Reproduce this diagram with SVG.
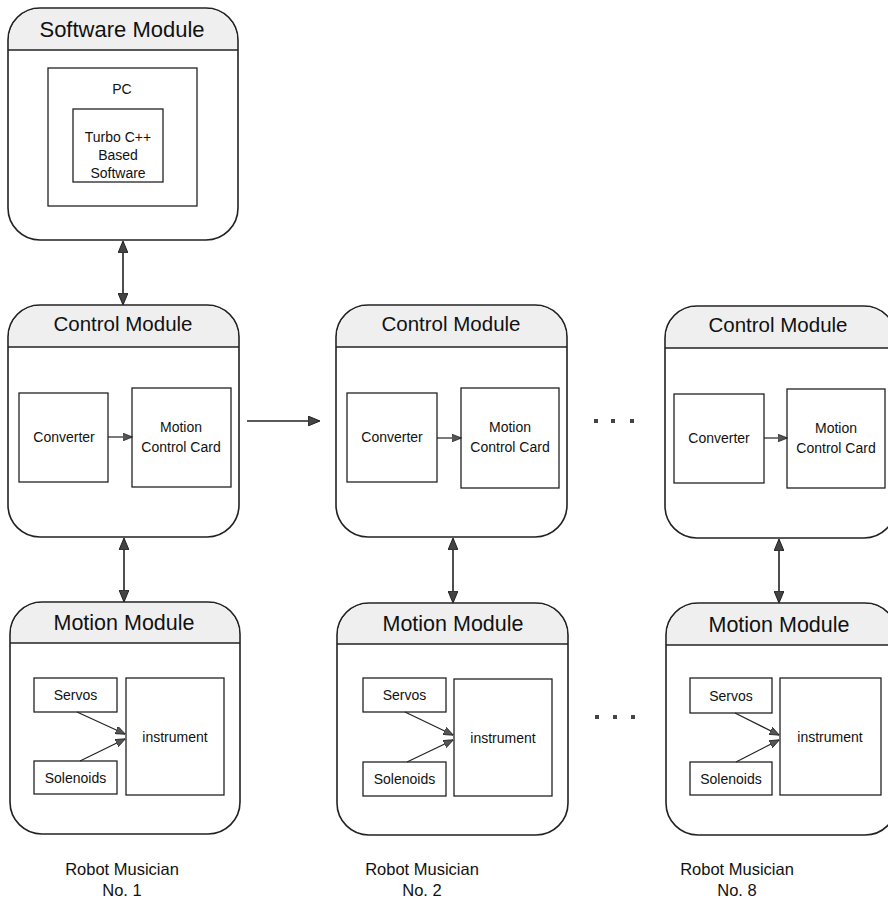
<svg xmlns="http://www.w3.org/2000/svg" width="888" height="915" viewBox="0 0 888 915">
<style>
.mod{fill:#fff;stroke:#222;stroke-width:1.6}
.hdr{fill:#efefef;stroke:none}
.div{stroke:#222;stroke-width:1.5}
.box{fill:#fff;stroke:#222;stroke-width:1.3}
.title{font-family:"Liberation Sans",Arial,sans-serif;font-size:20.5px;fill:#111;text-anchor:middle}
.t{font-family:"Liberation Sans",Arial,sans-serif;font-size:14px;fill:#111;text-anchor:middle}
.lab{font-family:"Liberation Sans",Arial,sans-serif;font-size:16.5px;fill:#111;text-anchor:middle}
.con{stroke:#222;stroke-width:1.6;fill:none}
.con2{stroke:#222;stroke-width:1.2;fill:none}
.dot{fill:#444}
</style>
<defs>
<marker id="ah" viewBox="0 0 12 10" refX="11" refY="5" markerWidth="12" markerHeight="10" markerUnits="userSpaceOnUse" orient="auto-start-reverse">
<path d="M0,0 L12,5 L0,10 Z" fill="#444" stroke="#222" stroke-width="1"/>
</marker>
<marker id="as" viewBox="0 0 10 8" refX="9.5" refY="4" markerWidth="10" markerHeight="8" markerUnits="userSpaceOnUse" orient="auto">
<path d="M0,0 L10,4 L0,8 Z" fill="#555" stroke="#222" stroke-width="0.8"/>
</marker>
</defs>

<g id="software-module">
<rect class="mod" x="8" y="8" width="230" height="232" rx="32"/>
<path class="hdr" d="M9,50 L9,40 A31,31 0 0 1 40,9 L206,9 A31,31 0 0 1 237,40 L237,50 Z"/>
<line class="div" x1="8" y1="50" x2="238" y2="50"/>
<text class="title" x="122" y="37" style="font-size:22px">Software Module</text>
<rect class="box" x="48" y="68" width="149" height="138"/>
<text class="t" x="122" y="94">PC</text>
<rect class="box" x="73" y="109" width="90" height="73"/>
<text class="t" x="118" y="142">Turbo C++</text>
<text class="t" x="118" y="160">Based</text>
<text class="t" x="118" y="178">Software</text>
</g>

<g id="control-module-1">
<rect class="mod" x="8" y="305" width="231" height="232" rx="32"/>
<path class="hdr" d="M9,347 L9,337 A31,31 0 0 1 40,306 L207,306 A31,31 0 0 1 238,337 L238,347 Z"/>
<line class="div" x1="8" y1="347" x2="239" y2="347"/>
<text class="title" x="123" y="331">Control Module</text>
<rect class="box" x="19" y="393" width="89" height="89"/>
<text class="t" x="64" y="442">Converter</text>
<rect class="box" x="132" y="388" width="99" height="99"/>
<text class="t" x="181" y="432">Motion</text>
<text class="t" x="181" y="452">Control Card</text>
</g>

<g id="control-module-2">
<rect class="mod" x="336" y="305" width="231" height="232" rx="32"/>
<path class="hdr" d="M337,347 L337,337 A31,31 0 0 1 368,306 L535,306 A31,31 0 0 1 566,337 L566,347 Z"/>
<line class="div" x1="336" y1="347" x2="567" y2="347"/>
<text class="title" x="451" y="331">Control Module</text>
<rect class="box" x="347" y="393" width="90" height="89"/>
<text class="t" x="392" y="442">Converter</text>
<rect class="box" x="461" y="388" width="98" height="100"/>
<text class="t" x="510" y="432">Motion</text>
<text class="t" x="510" y="452">Control Card</text>
</g>

<g id="control-module-8">
<rect class="mod" x="665" y="306" width="231" height="232" rx="32"/>
<path class="hdr" d="M666,348 L666,338 A31,31 0 0 1 697,307 L864,307 A31,31 0 0 1 895,338 L895,348 Z"/>
<line class="div" x1="665" y1="348" x2="896" y2="348"/>
<text class="title" x="778" y="332">Control Module</text>
<rect class="box" x="674" y="394" width="90" height="89"/>
<text class="t" x="719" y="443">Converter</text>
<rect class="box" x="787" y="389" width="98" height="99"/>
<text class="t" x="836" y="433">Motion</text>
<text class="t" x="836" y="453">Control Card</text>
</g>

<g id="motion-module-1">
<rect class="mod" x="10" y="602" width="230" height="232" rx="32"/>
<path class="hdr" d="M11,643 L11,634 A31,31 0 0 1 42,603 L208,603 A31,31 0 0 1 239,634 L239,643 Z"/>
<line class="div" x1="10" y1="643" x2="240" y2="643"/>
<text class="title" x="124" y="630" style="font-size:21.5px">Motion Module</text>
<rect class="box" x="34" y="678" width="83" height="34"/>
<text class="t" x="75.5" y="700">Servos</text>
<rect class="box" x="34" y="761" width="83" height="33"/>
<text class="t" x="75.5" y="783">Solenoids</text>
<rect class="box" x="126" y="678" width="98" height="117"/>
<text class="t" x="175" y="742">instrument</text>
</g>

<g id="motion-module-2">
<rect class="mod" x="337" y="603" width="231" height="232" rx="32"/>
<path class="hdr" d="M338,644 L338,635 A31,31 0 0 1 369,604 L536,604 A31,31 0 0 1 567,635 L567,644 Z"/>
<line class="div" x1="337" y1="644" x2="568" y2="644"/>
<text class="title" x="453" y="631" style="font-size:21.5px">Motion Module</text>
<rect class="box" x="363" y="678" width="83" height="34"/>
<text class="t" x="404.5" y="700">Servos</text>
<rect class="box" x="363" y="762" width="83" height="34"/>
<text class="t" x="404.5" y="784">Solenoids</text>
<rect class="box" x="454" y="679" width="98" height="117"/>
<text class="t" x="503" y="743">instrument</text>
</g>

<g id="motion-module-8">
<rect class="mod" x="666" y="603" width="231" height="232" rx="32"/>
<path class="hdr" d="M667,645 L667,635 A31,31 0 0 1 698,604 L865,604 A31,31 0 0 1 896,635 L896,645 Z"/>
<line class="div" x1="666" y1="645" x2="897" y2="645"/>
<text class="title" x="779" y="632" style="font-size:21.5px">Motion Module</text>
<rect class="box" x="690" y="678" width="82" height="35"/>
<text class="t" x="731" y="701">Servos</text>
<rect class="box" x="690" y="762" width="82" height="33"/>
<text class="t" x="731" y="784">Solenoids</text>
<rect class="box" x="780" y="678" width="101" height="117"/>
<text class="t" x="830" y="742">instrument</text>
</g>

<g id="connectors">
<line class="con" x1="123" y1="242" x2="123" y2="304" marker-start="url(#ah)" marker-end="url(#ah)"/>
<line class="con" x1="124" y1="539" x2="124" y2="601" marker-start="url(#ah)" marker-end="url(#ah)"/>
<line class="con" x1="453" y1="539" x2="453" y2="602" marker-start="url(#ah)" marker-end="url(#ah)"/>
<line class="con" x1="779" y1="540" x2="779" y2="602" marker-start="url(#ah)" marker-end="url(#ah)"/>
<line class="con" x1="247" y1="421" x2="319" y2="421" marker-end="url(#ah)"/>
<line class="con2" x1="108" y1="437" x2="132" y2="437" marker-end="url(#as)"/>
<line class="con2" x1="437" y1="438" x2="461" y2="438" marker-end="url(#as)"/>
<line class="con2" x1="764" y1="438" x2="787" y2="438" marker-end="url(#as)"/>
<line class="con2" x1="77" y1="712" x2="125" y2="734" marker-end="url(#as)"/>
<line class="con2" x1="80" y1="761" x2="125" y2="739" marker-end="url(#as)"/>
<line class="con2" x1="405" y1="712" x2="453" y2="735" marker-end="url(#as)"/>
<line class="con2" x1="407" y1="762" x2="453" y2="740" marker-end="url(#as)"/>
<line class="con2" x1="735" y1="713" x2="779" y2="735" marker-end="url(#as)"/>
<line class="con2" x1="736" y1="762" x2="779" y2="740" marker-end="url(#as)"/>
</g>

<g id="ellipsis">
<rect class="dot" x="594" y="419" width="4" height="4"/>
<rect class="dot" x="611" y="419" width="4" height="4"/>
<rect class="dot" x="630" y="419" width="4" height="4"/>
<rect class="dot" x="595" y="715" width="4" height="4"/>
<rect class="dot" x="613" y="715" width="4" height="4"/>
<rect class="dot" x="631" y="715" width="4" height="4"/>
</g>

<g id="labels">
<text class="lab" x="122" y="875">Robot Musician</text>
<text class="lab" x="122" y="896">No. 1</text>
<text class="lab" x="422" y="875">Robot Musician</text>
<text class="lab" x="422" y="896">No. 2</text>
<text class="lab" x="737" y="875">Robot Musician</text>
<text class="lab" x="737" y="896">No. 8</text>
</g>
</svg>
